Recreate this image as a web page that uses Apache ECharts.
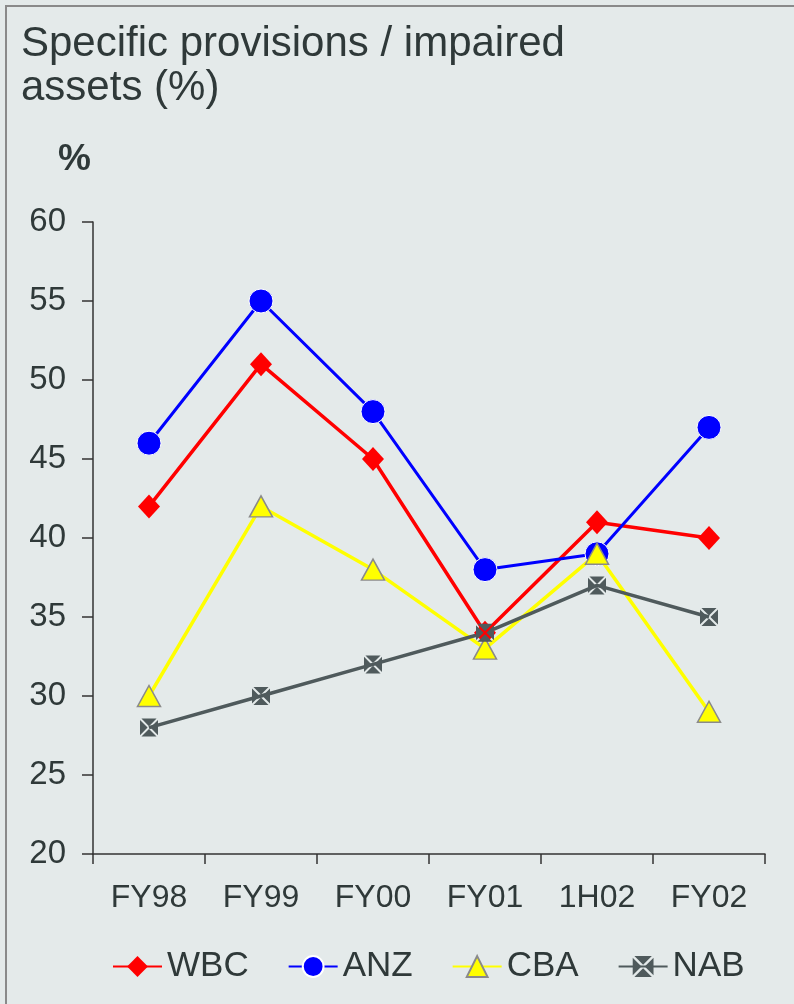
<!DOCTYPE html>
<html>
<head>
<meta charset="utf-8">
<script src="https://cdn.jsdelivr.net/npm/echarts@6/dist/echarts.min.js"></script>
<style>
  html, body { margin: 0; padding: 0; background: #e4eaea; }
  #chart { width: 794px; height: 1004px; }
  #frame { position: absolute; left: 5px; top: 5px; width: 800px; height: 1010px;
           border-left: 2px solid #8a8a8a; border-top: 2px solid #8a8a8a; pointer-events: none; }
</style>
</head>
<body>
<div id="chart"></div>
<div id="frame"></div>
<script>
const categories = ['FY98', 'FY99', 'FY00', 'FY01', '1H02', 'FY02'];
const wbc = [42, 51, 45, 34, 41, 40];
const anz = [46, 55, 48, 38, 39, 47];
const cba = [30, 42, 38, 33, 39, 29];
const nab = [28, 30, 32, 34, 37, 35];
const seriesNames = ['WBC', 'ANZ', 'CBA', 'NAB'];

const textColor = '#2f3939';
const font = 'Liberation Sans, Arial, sans-serif';
const nabSymbol = 'path://M8,0L92,0L50,42ZM100,8L100,92L58,50ZM92,100L8,100L50,58ZM0,92L0,8L42,50Z';

const chart = echarts.init(document.getElementById('chart'));
chart.setOption({
  backgroundColor: '#e4eaea',
  animation: false,
  textStyle: { fontFamily: font, color: textColor },
  title: [
    {
      text: 'Specific provisions / impaired\nassets (%)',
      left: 16, top: 17,
      textStyle: { fontFamily: font, fontSize: 42, fontWeight: 'normal', color: textColor, lineHeight: 44 }
    },
    {
      text: '%',
      left: 53, top: 136,
      textStyle: { fontFamily: font, fontSize: 37, fontWeight: 'bold', color: textColor }
    }
  ],
  grid: { left: 93, right: 29, top: 222, bottom: 150, containLabel: false },
  xAxis: {
    type: 'category',
    data: categories,
    boundaryGap: true,
    axisLine: { lineStyle: { color: '#333', width: 1.5 } },
    axisTick: { show: true, length: 10, lineStyle: { color: '#333', width: 1.5 } },
    axisLabel: { fontSize: 32, color: textColor, margin: 28, fontFamily: font },
    splitLine: { show: false }
  },
  yAxis: {
    type: 'value',
    min: 20, max: 60, interval: 5,
    axisLine: { show: true, lineStyle: { color: '#333', width: 1.5 } },
    axisTick: { show: true, length: 11, lineStyle: { color: '#333', width: 1.5 } },
    axisLabel: { fontSize: 33, color: textColor, margin: 27, fontFamily: font },
    splitLine: { show: false }
  },
  legend: {
    left: 112, top: 949, padding: 0,
    itemWidth: 49, itemHeight: 26, itemGap: 39, itemTextGap: 7,
    textStyle: { fontSize: 35, color: textColor, fontFamily: font },
    data: seriesNames
  },
  series: [
    {
      name: 'WBC', type: 'line', data: wbc,
      symbol: 'diamond', symbolSize: [22, 24],
      lineStyle: { color: '#ff0000', width: 3.5 },
      itemStyle: { color: '#ff0000' }
    },
    {
      name: 'ANZ', type: 'line', data: anz,
      symbol: 'circle', symbolSize: 24,
      lineStyle: { color: '#0000ff', width: 3 },
      itemStyle: { color: '#0000ff', borderColor: '#ffffff', borderWidth: 1 }
    },
    {
      name: 'CBA', type: 'line', data: cba,
      symbol: 'triangle', symbolSize: [23, 21],
      lineStyle: { color: '#ffff00', width: 3.5 },
      itemStyle: { color: '#ffff00', borderColor: '#8a8a8a', borderWidth: 1.5 }
    },
    {
      name: 'NAB', type: 'line', data: nab,
      symbol: nabSymbol, symbolSize: 18,
      lineStyle: { color: '#4f5a5c', width: 3.5 },
      itemStyle: { color: '#4f5a5c' }
    }
  ]
});
</script>
</body>
</html>
